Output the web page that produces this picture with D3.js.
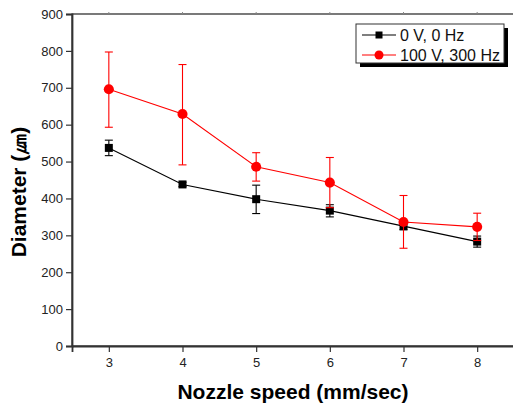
<!DOCTYPE html>
<html>
<head>
<meta charset="utf-8">
<script src="https://cdn.jsdelivr.net/npm/d3@7"></script>
<style>
  body { margin: 0; background: #fff; }
  svg { display: block; font-family: "Liberation Sans", Arial, sans-serif; }
</style>
</head>
<body>
<div class="chart"></div>
<script>
// nozzle speed (mm/sec)
const speeds = [3, 4, 5, 6, 7, 8];
// 0 V, 0 Hz
const base = [537, 438, 398, 367, 325, 283];
const baseErrLow = [516, 432, 359, 350, 315, 268];
const baseErrHigh = [558, 444, 436, 383, 335, 298];
// 100 V, 300 Hz
const field = [696, 629, 486, 443, 336, 323];
const fieldErrLow = [593, 491, 447, 375, 265, 286];
const fieldErrHigh = [797, 763, 524, 511, 408, 360];
const yTicks = [0, 100, 200, 300, 400, 500, 600, 700, 800, 900];
const seriesNames = ["0 V, 0 Hz", "100 V, 300 Hz"];

const width = 513, height = 405;
const margin = {top: 14, right: -1, bottom: 59, left: 72};

const svg = d3.select('.chart').append('svg')
    .attr('width', width)
    .attr('height', height);

const x = d3.scaleLinear().domain([2.5, 8.5]).range([margin.left, width - margin.right]);
const y = d3.scaleLinear().domain([0, 900]).range([height - margin.bottom, margin.top]);

const axisColor = '#333';

// frame
svg.append('rect')
    .attr('x', x(2.5)).attr('y', y(900))
    .attr('width', x(8.5) - x(2.5)).attr('height', y(0) - y(900))
    .attr('fill', 'none').attr('stroke', '#222').attr('stroke-width', 1.2);

// left axis
const yAxis = svg.append('g')
    .attr('transform', `translate(${x(2.5)},0)`)
    .call(d3.axisLeft(y).tickValues(yTicks).tickSize(6).tickPadding(3));
yAxis.select('.domain').attr('stroke', axisColor).attr('stroke-width', 1.8);
yAxis.selectAll('.tick line').attr('stroke', axisColor).attr('stroke-width', 1.2);
yAxis.selectAll('text').attr('font-size', 13).attr('fill', '#222')
    .attr('font-family', '"Liberation Sans", Arial, sans-serif');

// bottom axis
const xAxis = svg.append('g')
    .attr('transform', `translate(0,${y(0)})`)
    .call(d3.axisBottom(x).tickValues(speeds).tickSize(6).tickPadding(6).tickFormat(d3.format('d')));
xAxis.select('.domain').attr('stroke', axisColor).attr('stroke-width', 1.8);
xAxis.selectAll('.tick line').attr('stroke', axisColor).attr('stroke-width', 1.2);
xAxis.selectAll('text').attr('font-size', 13).attr('fill', '#222')
    .attr('font-family', '"Liberation Sans", Arial, sans-serif');

// small top ticks
svg.append('g').selectAll('line')
    .data(speeds).enter().append('line')
    .attr('x1', d => x(d)).attr('x2', d => x(d))
    .attr('y1', y(900)).attr('y2', y(900) - 2)
    .attr('stroke', '#888').attr('stroke-width', 1);

// axis titles
svg.append('text')
    .attr('x', x(5.5)).attr('y', 399)
    .attr('text-anchor', 'middle')
    .attr('font-size', 21).attr('font-weight', 'bold')
    .text('Nozzle speed (mm/sec)');

svg.append('text')
    .attr('transform', `translate(26,${192}) rotate(-90)`)
    .attr('text-anchor', 'middle')
    .attr('font-size', 21).attr('font-weight', 'bold')
    .text('Diameter (㎛)');

function drawSeries(values, lo, hi, color, shape) {
    const g = svg.append('g');
    const pts = speeds.map((s, i) => ({s, v: values[i], lo: lo[i], hi: hi[i]}));
    g.append('path')
        .datum(pts)
        .attr('fill', 'none').attr('stroke', color).attr('stroke-width', 1.1)
        .attr('d', d3.line().x(d => x(d.s)).y(d => y(d.v)));
    const eb = g.selectAll('.err').data(pts).enter().append('g')
        .attr('stroke', color).attr('stroke-width', 1.1);
    eb.append('line')
        .attr('x1', d => x(d.s)).attr('x2', d => x(d.s))
        .attr('y1', d => y(d.lo)).attr('y2', d => y(d.hi));
    eb.append('line')
        .attr('x1', d => x(d.s) - 4).attr('x2', d => x(d.s) + 4)
        .attr('y1', d => y(d.lo)).attr('y2', d => y(d.lo));
    eb.append('line')
        .attr('x1', d => x(d.s) - 4).attr('x2', d => x(d.s) + 4)
        .attr('y1', d => y(d.hi)).attr('y2', d => y(d.hi));
    const sym = shape === 'square' ? d3.symbolSquare : d3.symbolCircle;
    const size = shape === 'square' ? 64 : 80;
    g.selectAll('.mk').data(pts).enter().append('path')
        .attr('transform', d => `translate(${x(d.s)},${y(d.v)})`)
        .attr('d', d3.symbol().type(sym).size(size))
        .attr('fill', color);
}

drawSeries(base, baseErrLow, baseErrHigh, '#000', 'square');
drawSeries(field, fieldErrLow, fieldErrHigh, '#ff0000', 'circle');

// legend
const lg = svg.append('g').attr('transform', 'translate(356,24)');
lg.append('rect').attr('x', 4).attr('y', 4).attr('width', 148).attr('height', 39).attr('fill', '#000');
lg.append('rect').attr('x', 0).attr('y', 0).attr('width', 148).attr('height', 39)
    .attr('fill', '#fff').attr('stroke', '#333').attr('stroke-width', 1);
const legendColors = ['#000', '#ff0000'];
const legendShapes = [d3.symbolSquare, d3.symbolCircle];
seriesNames.forEach((name, i) => {
    const cy = 11 + i * 20;
    lg.append('line').attr('x1', 6).attr('x2', 40).attr('y1', cy).attr('y2', cy)
        .attr('stroke', legendColors[i]).attr('stroke-width', 1.1);
    lg.append('path').attr('transform', `translate(23,${cy})`)
        .attr('d', d3.symbol().type(legendShapes[i]).size(i === 0 ? 49 : 64))
        .attr('fill', legendColors[i]);
    lg.append('text').attr('x', 44).attr('y', cy + 6)
        .attr('font-size', 16).attr('fill', '#111')
        .text(name);
});
</script>
</body>
</html>
